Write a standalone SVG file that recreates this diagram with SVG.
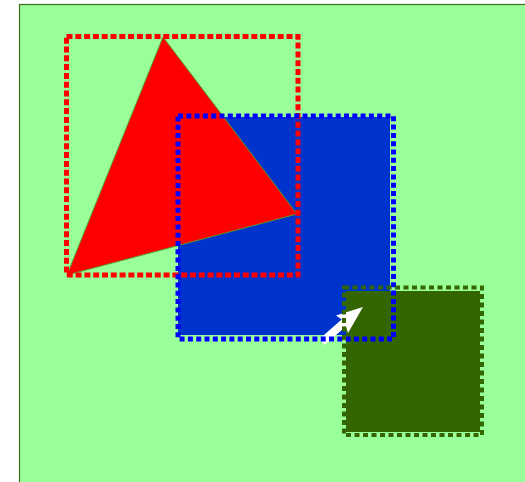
<svg xmlns="http://www.w3.org/2000/svg" width="525" height="482" viewBox="0 0 525 482">
<style>
.bbox{fill:none}
.red{stroke:#ff0000;stroke-width:5;stroke-dasharray:6 2.8}
.blue{stroke:#0000ff;stroke-width:5;stroke-dasharray:5 3.3}
.green{stroke:#336600;stroke-width:4;stroke-dasharray:5 3.5}
</style>
<rect id="background" x="19.5" y="4.5" width="520" height="490" fill="#99ff99" stroke="#3f6f15" stroke-width="1.2"/>
<g id="blue-square"><rect x="178" y="117" width="212" height="218" fill="#0033cc"/></g>
<g id="red-triangle"><polygon points="163,37 297,214 67,275" fill="#ff0000" stroke="#5a9a2a" stroke-width="1"/></g>
<g id="green-square"><rect x="346" y="291" width="134" height="141" fill="#336600"/></g>
<g id="connectors">
<line x1="322" y1="342" x2="346" y2="321" stroke="#ffffff" stroke-width="8"/>
<polygon points="363,307 336,315.5 344.5,321.5 348,333" fill="#ffffff"/>
</g>
<g id="red-bbox"><rect class="bbox red" x="66.5" y="36.5" width="231.5" height="238.5"/></g>
<g id="blue-bbox"><rect class="bbox blue" x="178" y="116" width="215.5" height="223"/></g>
<g id="green-bbox"><rect class="bbox green" x="344" y="287.5" width="138" height="147.5"/></g>
</svg>
